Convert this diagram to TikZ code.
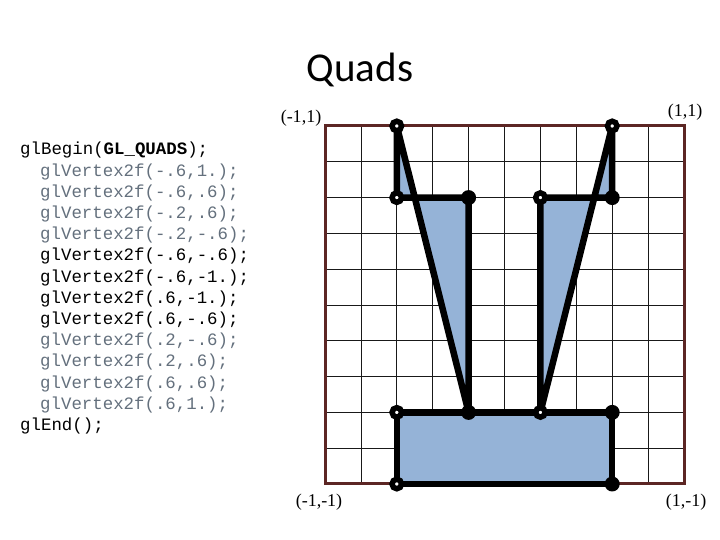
\documentclass[tikz,border=0pt]{standalone}
\usepackage{fontspec}
\setmainfont{Liberation Serif}
\setmonofont{Liberation Mono}
\newfontfamily\headfont{Carlito}
\usetikzlibrary{positioning}
\definecolor{quadfill}{RGB}{149,179,215}
\definecolor{framebrown}{RGB}{92,38,36}
\definecolor{codegray}{RGB}{100,112,125}

\begin{document}
\begin{tikzpicture}[
    x=1pt, y=1pt,
    heading/.style={font=\headfont\fontsize{41}{48}\selectfont, anchor=base},
    code/.style={font=\ttfamily\fontsize{17.4}{21}\selectfont, anchor=base west, inner sep=0pt},
    corner/.style={font=\fontsize{18}{21}\selectfont},
    gridline/.style={black!90, line width=0.8pt},
    frameline/.style={framebrown, line width=3pt},
    quad/.style={fill=quadfill, draw=black, line width=6.5pt, line join=round},
    soliddot/.style={circle, fill=black, inner sep=0pt, minimum size=15pt},
    opendot/.style={circle, fill=white, draw=black, line width=5.5pt, inner sep=0pt, minimum size=9.5pt}
]
\useasboundingbox (0,0) rectangle (720,540);

\node[heading] (title) at (360,458) {Quads};

% code listing
\node[code] (begin) at (20,385) {glBegin(\textbf{GL\_QUADS});};
\foreach \col/\txt [count=\i] in {
    codegray/{glVertex2f(-.6,1.);}, codegray/{glVertex2f(-.6,.6);},
    codegray/{glVertex2f(-.2,.6);}, codegray/{glVertex2f(-.2,-.6);},
    black/{glVertex2f(-.6,-.6);}, black/{glVertex2f(-.6,-1.);},
    black/{glVertex2f(.6,-1.);}, black/{glVertex2f(.6,-.6);},
    codegray/{glVertex2f(.2,-.6);}, codegray/{glVertex2f(.2,.6);},
    codegray/{glVertex2f(.6,.6);}, codegray/{glVertex2f(.6,1.);}}
  \node[code, text=\col] (vtx\i) at (40,{385-21.2*\i}) {\txt};
\node[code] (end) at (20,{385-21.2*13}) {glEnd();};

% viewport
\begin{scope}[shift={(504.5,235)}, x=179.5pt, y=179pt]
  \foreach \k in {1,...,9} {
    \draw[gridline] ({-1+0.2*\k},-1) -- ({-1+0.2*\k},1);
    \draw[gridline] (-1,{-1+0.2*\k}) -- (1,{-1+0.2*\k});
  }
  \draw[frameline] (-1,-1) rectangle (1,1);

  \coordinate (a1) at (-.6,1);  \coordinate (a2) at (-.6,.6);
  \coordinate (a3) at (-.2,.6); \coordinate (a4) at (-.2,-.6);
  \coordinate (b1) at (-.6,-.6); \coordinate (b2) at (-.6,-1);
  \coordinate (b3) at (.6,-1);   \coordinate (b4) at (.6,-.6);
  \coordinate (c1) at (.2,-.6); \coordinate (c2) at (.2,.6);
  \coordinate (c3) at (.6,.6);  \coordinate (c4) at (.6,1);

  \filldraw[quad] (a1) -- (a2) -- (a3) -- (a4) -- cycle;
  \filldraw[quad] (b1) -- (b2) -- (b3) -- (b4) -- cycle;
  \filldraw[quad] (c1) -- (c2) -- (c3) -- (c4) -- cycle;

  \node[opendot] (da1) at (a1) {};
  \node[opendot] (da2) at (a2) {};
  \node[soliddot] (da3) at (a3) {};
  \node[soliddot] (da4) at (a4) {};
  \node[opendot] (db1) at (b1) {};
  \node[opendot] (db2) at (b2) {};
  \node[soliddot] (db3) at (b3) {};
  \node[soliddot] (db4) at (b4) {};
  \node[opendot] (dc1) at (c1) {};
  \node[opendot] (dc2) at (c2) {};
  \node[soliddot] (dc3) at (c3) {};
  \node[opendot] (dc4) at (c4) {};

  \node[corner, xshift=-24pt, yshift=8pt] (tl) at (-1,1) {(-1,1)};
  \node[corner, xshift=1pt, yshift=14pt] (tr) at (1,1) {(1,1)};
  \node[corner, xshift=-6pt, yshift=-18pt] (bl) at (-1,-1) {(-1,-1)};
  \node[corner, xshift=2pt, yshift=-18pt] (br) at (1,-1) {(1,-1)};
\end{scope}
\end{tikzpicture}
\end{document}
